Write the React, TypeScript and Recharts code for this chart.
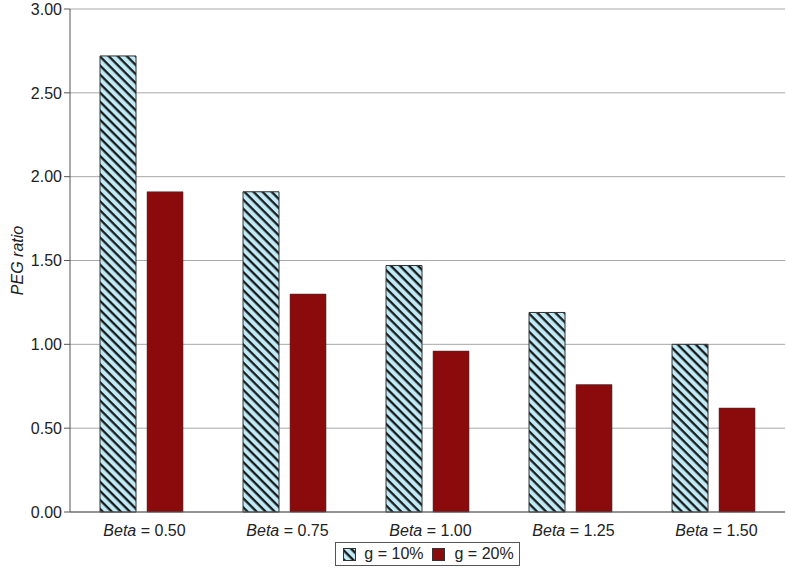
import React from "react";
import {
  BarChart,
  Bar,
  XAxis,
  YAxis,
  CartesianGrid,
  Legend,
} from "recharts";

const betas = ["0.50", "0.75", "1.00", "1.25", "1.50"];
const growth10 = [2.72, 1.91, 1.47, 1.19, 1.0];
const growth20 = [1.91, 1.3, 0.96, 0.76, 0.62];
const yTicks = [0, 0.5, 1, 1.5, 2, 2.5, 3];

const data = betas.map((b, i) => ({
  beta: b,
  g10: growth10[i],
  g20: growth20[i],
}));

const FONT = "Liberation Sans, Arial, sans-serif";
const RED = "#8b0a0c";
const AXIS = "#555";

function BetaTick(props: any) {
  const { x, y, payload } = props;
  return (
    <text
      x={x + 3}
      y={y + 16}
      textAnchor="middle"
      fontFamily={FONT}
      fontSize={16}
      fill="#222"
    >
      <tspan fontStyle="italic">Beta</tspan>
      <tspan>{` = ${payload.value}`}</tspan>
    </text>
  );
}

function LegendBox() {
  return (
    <div
      style={{
        display: "inline-flex",
        alignItems: "center",
        border: "1px solid #555",
        padding: "2px 5px 2px 7px",
        fontFamily: FONT,
        fontSize: 16,
        color: "#222",
        lineHeight: "18px",
      }}
    >
      <svg width={13} height={13} style={{ marginRight: 8 }}>
        <rect x={0.5} y={0.5} width={12} height={12} fill="url(#hatch)" stroke="#333" />
      </svg>
      <span style={{ marginRight: 8 }}>g = 10%</span>
      <svg width={13} height={13} style={{ marginRight: 10 }}>
        <rect x={0.5} y={0.5} width={12} height={12} fill={RED} stroke="#333" />
      </svg>
      <span>g = 20%</span>
    </div>
  );
}

export default function App() {
  return (
    <div style={{ position: "absolute", left: 0, top: 0, background: "#fff" }}>
      <BarChart
        width={786}
        height={576}
        data={data}
        margin={{ top: 9, right: 1, left: 0, bottom: 0 }}
        barCategoryGap="21%"
        barGap={11}
      >
        <defs>
          <pattern
            id="hatch"
            patternUnits="userSpaceOnUse"
            width={6.4}
            height={6.4}
            patternTransform="rotate(45)"
          >
            <rect width={6.4} height={6.4} fill="#bfeaf6" />
            <line x1={0} y1={1.2} x2={6.4} y2={1.2} stroke="#111" strokeWidth={2.2} />
          </pattern>
        </defs>
        <CartesianGrid stroke="#a8a8a8" vertical={false} />
        <XAxis
          dataKey="beta"
          tickLine={false}
          axisLine={{ stroke: AXIS }}
          tick={<BetaTick />}
          height={26}
        />
        <XAxis
          xAxisId="top"
          dataKey="beta"
          orientation="top"
          tick={false}
          tickLine={false}
          axisLine={{ stroke: AXIS }}
          height={0}
        />
        <YAxis
          domain={[0, 3]}
          ticks={yTicks}
          tickFormatter={(v: number) => v.toFixed(2)}
          axisLine={{ stroke: AXIS }}
          tickLine={{ stroke: AXIS }}
          tickSize={6}
          tick={{ fontFamily: FONT, fontSize: 16, fill: "#222" }}
          width={70}
          label={{
            value: "PEG ratio",
            angle: -90,
            position: "insideLeft",
            dx: 12,
            style: { fontFamily: FONT, fontSize: 16, fontStyle: "italic", fill: "#222", textAnchor: "middle" },
          }}
        />
        <YAxis
          yAxisId="right"
          orientation="right"
          domain={[0, 3]}
          tick={false}
          tickLine={false}
          axisLine={{ stroke: AXIS }}
          width={0}
        />
        <Bar dataKey="g10" fill="url(#hatch)" stroke="#333" strokeWidth={1} isAnimationActive={false} />
        <Bar dataKey="g20" fill={RED} stroke="#333" strokeWidth={0.5} isAnimationActive={false} />
        <Legend
          content={<LegendBox />}
          verticalAlign="bottom"
          height={38}
          wrapperStyle={{ textAlign: "center", paddingLeft: 70, paddingTop: 4, boxSizing: "border-box" }}
        />
      </BarChart>
    </div>
  );
}
